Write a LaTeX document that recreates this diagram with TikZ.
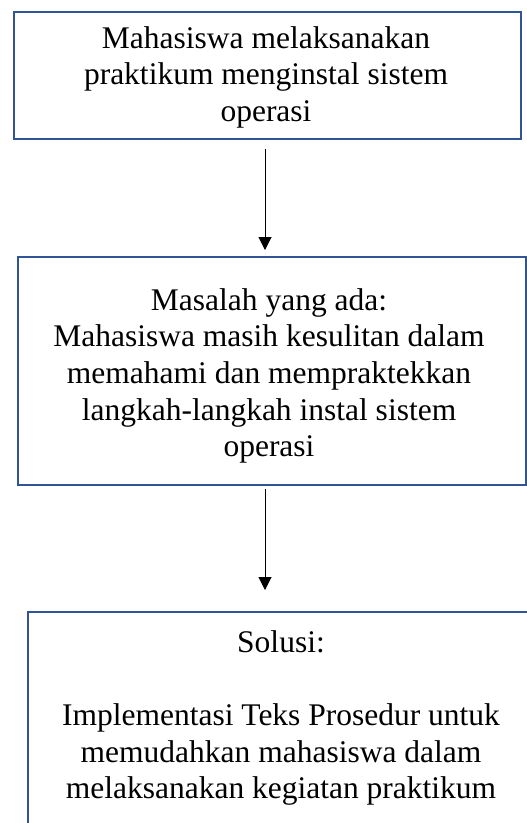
\documentclass[tikz,border=0pt]{standalone}
\usepackage{fontspec}
\setmainfont{Liberation Serif}
\usetikzlibrary{arrows.meta}
\definecolor{boxblue}{HTML}{2F5597}
\newcommand\txtlines[1]{\begin{tabular}[t]{@{}c@{}}#1\end{tabular}}
\tikzset{
  stepbox/.style={draw=boxblue, line width=2.6pt, rectangle, inner sep=0pt},
  boxtext/.style={anchor=base, inner sep=0pt, font=\fontsize{31.5}{36.7}\selectfont},
  flow/.style={draw=black, line width=1pt, -{Triangle[length=13pt,width=13pt]}}
}
\begin{document}
\begin{tikzpicture}[x=1pt,y=-1pt]
\useasboundingbox (0,0) rectangle (527,823);
\node[stepbox, minimum width=507pt, minimum height=127pt] (b1) at (267.5,75.5) {};
\node[stepbox, minimum width=508pt, minimum height=228pt] (b2) at (272,371) {};
\node[stepbox, minimum width=520pt, minimum height=240pt] (b3) at (288,732) {};
\node[boxtext] (t1) at (266,48) {\txtlines{Mahasiswa melaksanakan\\praktikum menginstal sistem\\operasi}};
\node[boxtext] (t2) at (269,310) {\txtlines{Masalah yang ada:\\Mahasiswa masih kesulitan dalam\\memahami dan mempraktekkan\\langkah-langkah instal sistem\\operasi}};
\node[boxtext] (t3) at (281,652) {\txtlines{Solusi:\\ \\Implementasi Teks Prosedur untuk\\memudahkan mahasiswa dalam\\melaksanakan kegiatan praktikum}};
\coordinate (a1s) at (265,149);
\coordinate (a1e) at (265,250);
\coordinate (a2s) at (265,489);
\coordinate (a2e) at (265,590);
\draw[flow] (a1s) -- (a1e);
\draw[flow] (a2s) -- (a2e);
\end{tikzpicture}
\end{document}
